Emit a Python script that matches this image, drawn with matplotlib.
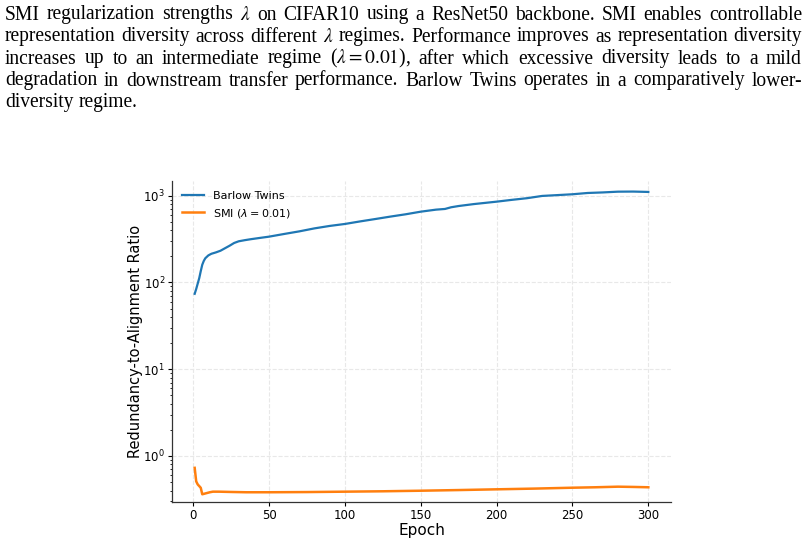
import matplotlib
matplotlib.use("Agg")
import matplotlib.pyplot as plt

# ---------------- data ----------------
bt_epochs = [1, 2, 3, 4, 5, 6, 7, 8, 10, 12, 15, 18, 21, 24, 27, 30, 34, 38, 44, 50,
             60, 70, 80, 90, 100, 110, 120, 130, 140, 150, 160, 166, 170, 175,
             185, 200, 210, 220, 230, 240, 250, 260, 270, 280, 290, 300]
bt_values = [74, 84, 97, 112, 135, 160, 177, 190, 205, 214, 222, 232, 248, 265, 285, 298,
             307, 315, 326, 337, 362, 388, 420, 448, 472, 505, 538, 574, 610, 654,
             690, 703, 735, 760, 800, 853, 895, 935, 993, 1015, 1038, 1074, 1090, 1112, 1115, 1104]

smi_epochs = [1, 2, 3, 4, 5, 6, 7, 9, 11, 13, 17, 25, 35, 50, 75, 100, 125, 150, 175,
              200, 225, 250, 265, 280, 290, 300]
smi_values = [0.73, 0.51, 0.47, 0.45, 0.43, 0.362, 0.366, 0.374, 0.382, 0.388, 0.388, 0.385,
              0.382, 0.382, 0.384, 0.388, 0.392, 0.398, 0.405, 0.413, 0.421, 0.431, 0.436,
              0.443, 0.440, 0.436]

series_labels = ["Barlow Twins", r"SMI ($\lambda=0.01$)"]
xlabel = "Epoch"
ylabel = "Redundancy-to-Alignment Ratio"

caption_lines = [
    r"SMI regularization strengths $\lambda$ on CIFAR10 using a ResNet50 backbone. SMI enables controllable",
    r"representation diversity across different $\lambda$ regimes. Performance improves as representation diversity",
    r"increases up to an intermediate regime ($\lambda=0.01$), after which excessive diversity leads to a mild",
    r"degradation in downstream transfer performance. Barlow Twins operates in a comparatively lower-",
    r"diversity regime.",
]

# ---------------- figure ----------------
W, H = 807, 544
plt.rcParams["mathtext.fontset"] = "dejavusans"
fig = plt.figure(figsize=(W / 100, H / 100), dpi=100)
fig.patch.set_facecolor("white")

ax = fig.add_axes([172 / W, 1 - 502 / H, (671 - 172) / W, (502 - 181) / H])
ax.plot(bt_epochs, bt_values, color="#1f77b4", lw=1.6, label=series_labels[0])
ax.plot(smi_epochs, smi_values, color="#ff7f0e", lw=1.8, label=series_labels[1])
ax.set_yscale("log")
ax.set_ylim(0.295, 1476)
ax.set_xlim(-13.95, 314.95)
ax.set_xticks([0, 50, 100, 150, 200, 250, 300])
ax.tick_params(axis="both", which="major", labelsize=8.5, length=2.8, pad=2.2, width=0.8)
ax.tick_params(axis="y", which="minor", length=1.6, width=0.6)
ax.set_xlabel(xlabel, fontsize=11, labelpad=1)
ax.set_ylabel(ylabel, fontsize=10.5, labelpad=0)
ax.grid(True, which="major", linestyle="--", color="#e8e8e8", lw=0.8)
for s in ("left", "bottom"):
    ax.spines[s].set_color("#333333")
    ax.spines[s].set_linewidth(0.9)
ax.spines["top"].set_visible(False)
ax.spines["right"].set_visible(False)
ax.legend(loc="upper left", frameon=False, fontsize=8)

# ---------------- caption (justified) ----------------
renderer = fig.canvas.get_renderer()
cap_font = dict(family="Liberation Serif", math_fontfamily="stix")
x_left, x_right = 5, 802
baselines = [19.5, 41.5, 63.5, 85.5, 107.5]

def measure(s, fs):
    t = fig.text(0, 0, s, fontsize=fs, **cap_font)
    w = t.get_window_extent(renderer).width
    t.remove()
    return w

# choose size so the widest line fits with natural spacing
probe = 10
space_w = measure("a a", probe) - measure("aa", probe)
nat = []
for line in caption_lines:
    words = line.split(" ")
    nat.append(sum(measure(wd, probe) for wd in words) + space_w * (len(words) - 1))
fs = probe * (x_right - x_left) / max(nat) * 0.99

space_w = measure("a a", fs) - measure("aa", fs)
for i, line in enumerate(caption_lines):
    words = line.split(" ")
    widths = [measure(wd, fs) for wd in words]
    if i < len(caption_lines) - 1:
        gap = (x_right - x_left - sum(widths)) / (len(words) - 1)
    else:
        gap = space_w
    x = x_left
    for wd, w in zip(words, widths):
        fig.text(x / W, 1 - baselines[i] / H, wd, fontsize=fs, va="baseline",
                 ha="left", **cap_font)
        x += w + gap

fig.savefig("out.png", dpi=100, facecolor="white")
